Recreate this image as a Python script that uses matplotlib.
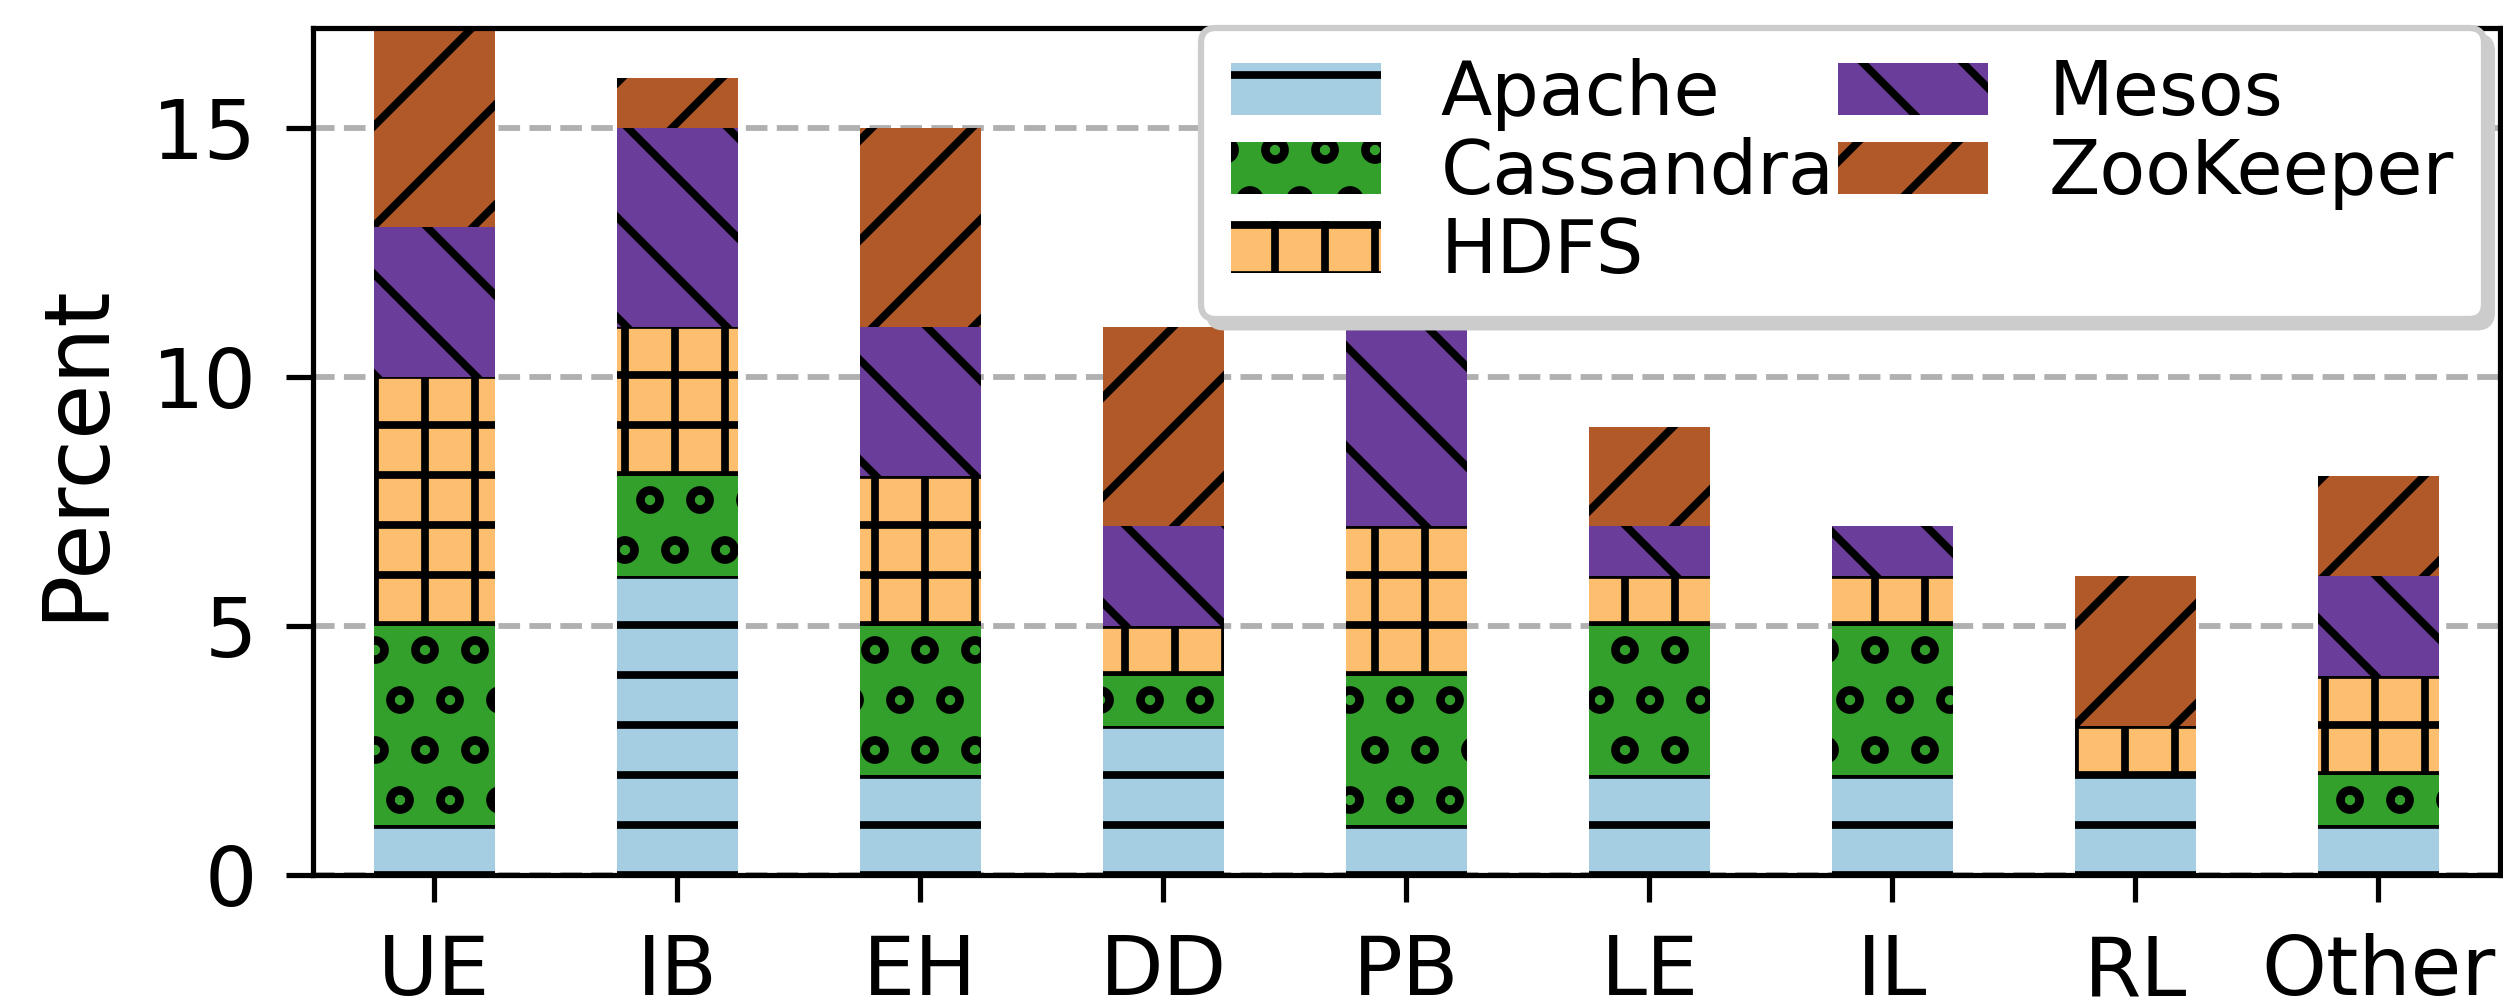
import numpy as np
import matplotlib
matplotlib.use('Agg')
import matplotlib.pyplot as plt

# ---- data ----
categories = ['UE', 'IB', 'EH', 'DD', 'PB', 'LE', 'IL', 'RL', 'Other']
systems = ['Apache', 'Cassandra', 'HDFS', 'Mesos', 'ZooKeeper']
apache    = [1, 6, 2, 3, 1, 2, 2, 2, 1]
cassandra = [4, 2, 3, 1, 3, 3, 3, 0, 1]
hdfs      = [5, 3, 3, 1, 3, 1, 1, 1, 2]
mesos     = [3, 4, 3, 2, 4, 1, 1, 0, 2]
zookeeper = [4, 1, 4, 4, 0, 2, 0, 3, 2]
yticks = [0, 5, 10, 15]

# ---- style ----
colors = ['#a6cee3', '#33a02c', '#fdbf6f', '#6a3d9a', '#b15928']
hatches = ['-', 'o', '+', '\\', '/']

plt.rcParams.update({
    'font.family': ['DejaVu Sans'],
    'hatch.linewidth': 1.85,
    'hatch.color': 'black',
    'axes.linewidth': 1.25,
    'axes.edgecolor': 'black',
    'xtick.major.size': 6.5, 'ytick.major.size': 6.5,
    'xtick.major.width': 1.25, 'ytick.major.width': 1.25,
    'xtick.major.pad': 7.5, 'ytick.major.pad': 7,
    'xtick.labelsize': 19.8, 'ytick.labelsize': 19.8,
    'axes.labelsize': 21.6,
})

W, H, DPI = 2504, 1000, 300
fig = plt.figure(figsize=(W / DPI, H / DPI), dpi=DPI)
ax = fig.add_axes([313 / W, 125 / H, 2187 / W, 847 / H])

series = [apache, cassandra, hdfs, mesos, zookeeper]
x = np.arange(len(categories))
bottom = np.zeros(len(categories))
for name, vals, c, h in zip(systems, series, colors, hatches):
    vals = np.asarray(vals, dtype=float)
    ax.bar(x, vals, 0.5, bottom=bottom, color=c, hatch=h, linewidth=0, label=name)
    bottom += vals

ax.set_xlim(-0.5, len(categories) - 0.5)
ax.set_ylim(0, 17)
ax.set_xticks(x)
ax.set_xticklabels(categories)
ax.set_yticks(yticks)
ax.set_ylabel('Percent', labelpad=7.5)

ax.set_axisbelow(True)
ax.yaxis.grid(True, linestyle='--', color='#b0b0b0', linewidth=1.4)

leg = ax.legend(loc='upper right', bbox_to_anchor=(0.9925, 1.0), borderaxespad=0,
                ncol=2, fontsize=18, fancybox=True,
                shadow={'facecolor': '#cccccc', 'edgecolor': '#cccccc', 'alpha': 1.0},
                labelspacing=0.08, columnspacing=0.05, handletextpad=0.8,
                edgecolor='#cccccc')
leg.get_frame().set_linewidth(1.5)

fig.savefig('out.png', dpi=DPI)
